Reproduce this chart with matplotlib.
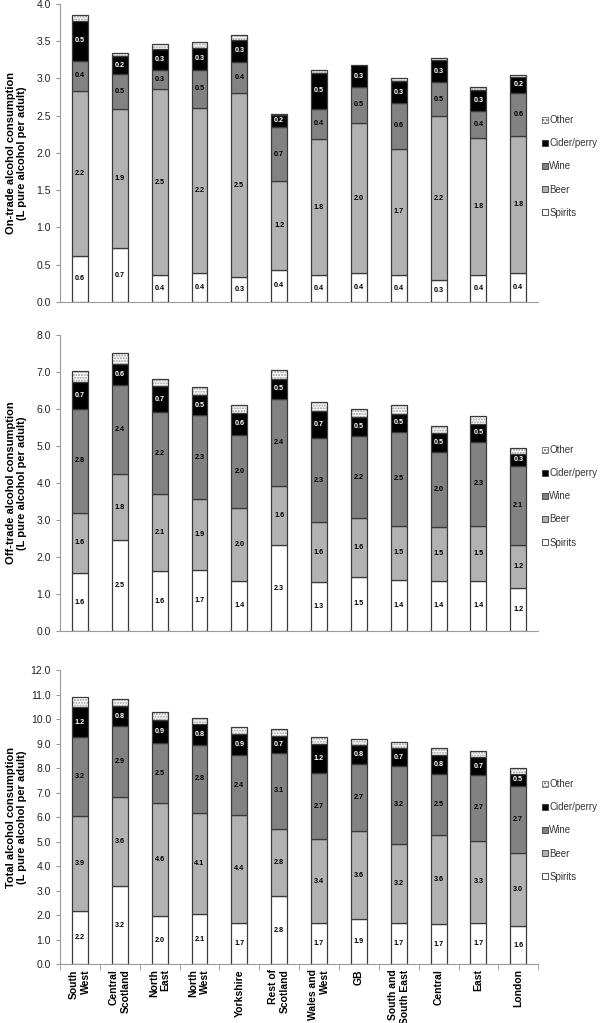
import numpy as np
import matplotlib.pyplot as plt
from matplotlib.patches import Patch

plt.rcParams['font.family'] = ['Liberation Sans', 'DejaVu Sans']

regions = ["South\nWest", "Central\nScotland", "North\nEast", "North\nWest", "Yorkshire",
           "Rest of\nScotland", "Wales and\nWest", "GB", "South and\nSouth East", "Central",
           "East", "London"]

# on-trade (L pure alcohol per adult)
on_spirits = [0.62, 0.72, 0.36, 0.39, 0.34, 0.43, 0.36, 0.385, 0.36, 0.30, 0.36, 0.385]
on_beer = [2.21, 1.87, 2.50, 2.22, 2.46, 1.19, 1.83, 2.02, 1.70, 2.19, 1.84, 1.84]
on_wine = [0.41, 0.47, 0.26, 0.51, 0.42, 0.73, 0.40, 0.48, 0.61, 0.46, 0.37, 0.58]
on_cider = [0.53, 0.24, 0.28, 0.29, 0.30, 0.16, 0.49, 0.29, 0.29, 0.30, 0.28, 0.22]
on_other = [0.08, 0.04, 0.06, 0.08, 0.06, 0.02, 0.03, 0.0, 0.04, 0.03, 0.03, 0.02]

# off-trade
off_spirits = [1.56, 2.46, 1.61, 1.66, 1.36, 2.32, 1.32, 1.46, 1.37, 1.36, 1.36, 1.16]
off_beer = [1.64, 1.78, 2.10, 1.91, 1.96, 1.60, 1.62, 1.59, 1.48, 1.46, 1.47, 1.17]
off_wine = [2.80, 2.41, 2.20, 2.26, 1.99, 2.36, 2.28, 2.21, 2.54, 2.01, 2.29, 2.14]
off_cider = [0.73, 0.58, 0.70, 0.54, 0.59, 0.54, 0.73, 0.53, 0.47, 0.52, 0.48, 0.31]
off_other = [0.29, 0.28, 0.21, 0.22, 0.22, 0.24, 0.24, 0.21, 0.25, 0.19, 0.22, 0.17]

# total
tot_spirits = [2.19, 3.19, 1.97, 2.06, 1.69, 2.77, 1.67, 1.85, 1.71, 1.66, 1.71, 1.56]
tot_beer = [3.86, 3.63, 4.59, 4.12, 4.41, 2.76, 3.43, 3.59, 3.21, 3.62, 3.34, 3.00]
tot_wine = [3.21, 2.88, 2.46, 2.78, 2.42, 3.10, 2.71, 2.71, 3.16, 2.49, 2.66, 2.73]
tot_cider = [1.23, 0.82, 0.93, 0.82, 0.89, 0.69, 1.19, 0.80, 0.74, 0.78, 0.74, 0.48]
tot_other = [0.39, 0.30, 0.32, 0.28, 0.27, 0.26, 0.26, 0.25, 0.25, 0.27, 0.26, 0.22]

names = ["Spirits", "Beer", "Wine", "Cider/perry", "Other"]
colors = ["white", "#b2b2b2", "#828282", "black", "white"]
txt_colors = ["black", "black", "black", "white", None]
edge = "#3a3a3a"

panels = [
    ([on_spirits, on_beer, on_wine, on_cider, on_other], 4, 0.5,
     "On-trade alcohol consumption\n(L pure alcohol per adult)"),
    ([off_spirits, off_beer, off_wine, off_cider, off_other], 8, 1,
     "Off-trade alcohol consumption\n(L pure alcohol per adult)"),
    ([tot_spirits, tot_beer, tot_wine, tot_cider, tot_other], 12, 1,
     "Total alcohol consumption\n(L pure alcohol per adult)"),
]
positions = [[0.1, 0.7048, 0.797, 0.2913],
             [0.1, 0.3832, 0.797, 0.2893],
             [0.1, 0.0572, 0.797, 0.2879]]

fig = plt.figure(figsize=(6, 10.23), dpi=100)
x = np.arange(len(regions))

for (series, ymax, step, ylab), pos in zip(panels, positions):
    ax = fig.add_axes(pos)
    bottom = np.zeros(len(regions))
    for i, vals in enumerate(series):
        vals = np.array(vals)
        if names[i] == "Other":
            m = vals > 0
            ax.bar(x[m], vals[m], 0.4, bottom=bottom[m], color="white",
                   edgecolor="#9a9a9a", hatch="......", linewidth=0)
            ax.bar(x[m], vals[m], 0.4, bottom=bottom[m], fill=False,
                   edgecolor=edge, linewidth=0.9)
        else:
            ax.bar(x, vals, 0.4, bottom=bottom, color=colors[i],
                   edgecolor=edge, linewidth=0.9)
            for xi, b, v in zip(x, bottom, vals):
                ax.text(xi, b + v / 2, f"{v:.1f}", ha="center", va="center",
                        fontsize=5.2, fontweight="bold", color=txt_colors[i])
        bottom = bottom + vals

    ax.set_xlim(-0.5, len(regions) - 0.5)
    ax.set_ylim(0, ymax)
    ax.set_yticks(np.arange(0, ymax + step / 2, step))
    ax.yaxis.set_major_formatter(plt.FormatStrFormatter("%.1f"))
    for s in ["top", "right"]:
        ax.spines[s].set_visible(False)
    for s in ["left", "bottom"]:
        ax.spines[s].set_color("#9a9a9a")
    ax.tick_params(axis="y", labelsize=7.5, length=3, color="#9a9a9a", labelcolor="#222222")
    ax.set_ylabel(ylab, fontsize=8, fontweight="bold")
    ax.yaxis.set_label_coords(-0.068, 0.5)

    ax.set_xticks(x)
    ax.set_xticks(np.arange(-0.5, len(regions), 1), minor=True)
    ax.tick_params(axis="x", which="major", length=0)
    ax.tick_params(axis="x", which="minor", length=0)
    if ymax == 12:
        ax.tick_params(axis="x", which="minor", length=4, color="#9a9a9a")
        ax.set_xticklabels(regions, rotation=90, fontsize=7.5, fontweight="bold",
                           ha="center", va="top", multialignment="right")
    else:
        ax.set_xticklabels([])

    handles = [Patch(facecolor=colors[i], edgecolor=edge if i < 4 else "#666666",
                     hatch="....." if i == 4 else None, linewidth=0.6)
               for i in range(4, -1, -1)]
    leg = ax.legend(handles, names[::-1], loc="center left", bbox_to_anchor=(1.008, 0.455),
                    frameon=False, fontsize=7, handlelength=0.6, handleheight=0.6,
                    handletextpad=0.15, labelspacing=1.35, borderaxespad=0,
                    borderpad=0)
    for t in leg.get_texts():
        t.set_color("#333333")

fig.savefig("out.png", dpi=100)
